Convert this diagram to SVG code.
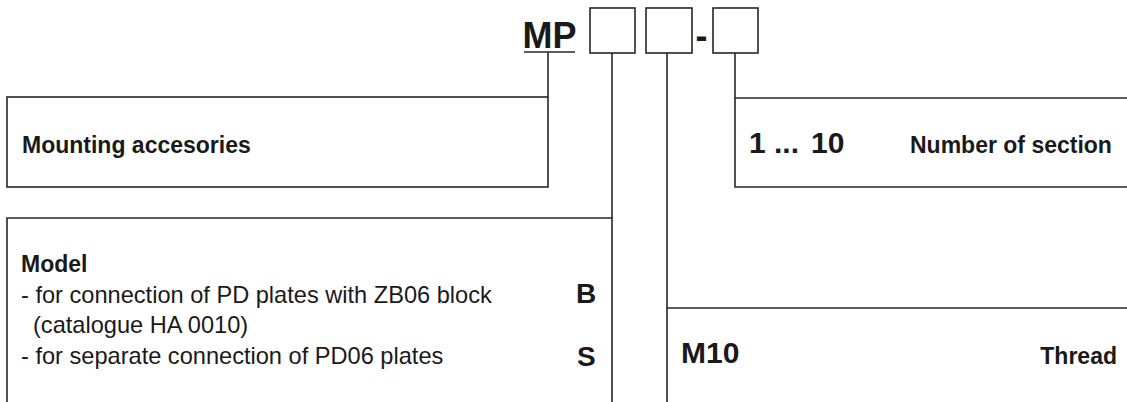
<svg xmlns="http://www.w3.org/2000/svg" width="1127" height="402" viewBox="0 0 1127 402">
<style>
.ln{fill:none;stroke:#262626;stroke-width:1.6}
.lbl{font-family:"Liberation Sans",Arial,sans-serif;font-weight:bold;font-size:23px;fill:#1a1a1a}
.txt{font-family:"Liberation Sans",Arial,sans-serif;font-size:23.6px;fill:#1a1a1a}
.code{font-family:"Liberation Sans",Arial,sans-serif;font-weight:bold;font-size:28px;fill:#1a1a1a}
.big{font-family:"Liberation Sans",Arial,sans-serif;font-weight:bold;font-size:30px;fill:#1a1a1a}
.hdr{font-family:"Liberation Sans",Arial,sans-serif;font-weight:bold;font-size:36px;fill:#1a1a1a}
</style>
<rect width="1127" height="402" fill="#ffffff"/>
<g id="header">
<text class="hdr" x="522.5" y="48">MP</text>
<line class="ln" x1="524" y1="52" x2="575" y2="52" stroke-width="2.2"/>
<rect class="ln" x="590" y="8" width="45" height="45"/>
<rect class="ln" x="646" y="8" width="46" height="45"/>
<text class="hdr" x="695.5" y="48">-</text>
<rect class="ln" x="713" y="8" width="45" height="45"/>
</g>
<g id="connectors">
<line class="ln" x1="548" y1="52" x2="548" y2="97"/>
<line class="ln" x1="612" y1="53" x2="612" y2="218"/>
<line class="ln" x1="667" y1="53" x2="667" y2="308"/>
<line class="ln" x1="735" y1="53" x2="735" y2="98"/>
</g>
<g id="mounting">
<rect class="ln" x="7" y="97" width="541" height="90"/>
<text class="lbl" x="22" y="153">Mounting accesories</text>
</g>
<g id="model">
<path class="ln" d="M7,402 V218 H612 V402"/>
<text class="lbl" x="21" y="272">Model</text>
<text class="txt" x="21" y="303">- for connection of PD plates with ZB06 block</text>
<text class="txt" x="33" y="333">(catalogue HA 0010)</text>
<text class="txt" x="21" y="364">- for separate connection of PD06 plates</text>
<text class="code" x="576" y="303">B</text>
<text class="code" x="577" y="366">S</text>
</g>
<g id="sections">
<path class="ln" d="M1127,98 H735 V187 H1127"/>
<text class="big" y="153"><tspan x="749">1</tspan><tspan x="774">...</tspan><tspan x="811">10</tspan></text>
<text class="lbl" x="910" y="153">Number of section</text>
</g>
<g id="thread">
<path class="ln" d="M667,402 V308 H1127"/>
<text class="big" x="681" y="363">M10</text>
<text class="lbl" x="1117" y="364" text-anchor="end">Thread</text>
</g>
</svg>
